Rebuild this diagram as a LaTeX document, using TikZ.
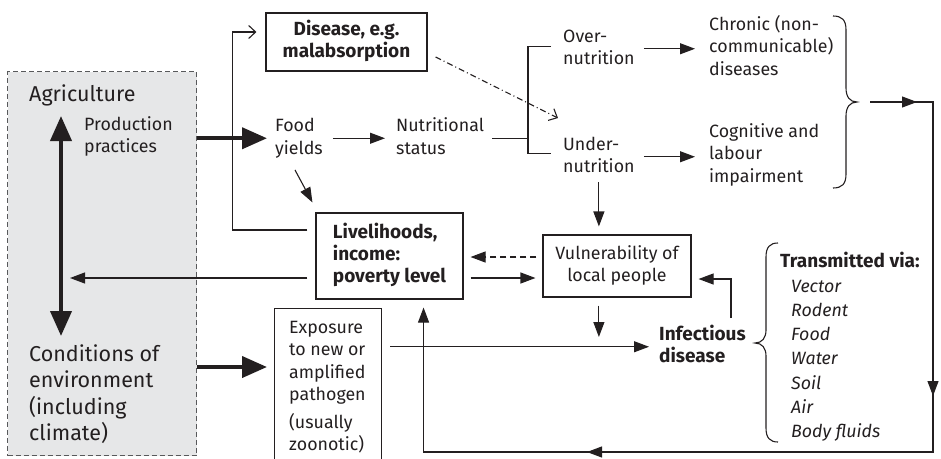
\documentclass[tikz,border=0pt]{standalone}
\usepackage{fontspec}
\setmainfont{Fira Sans}
\usetikzlibrary{arrows.meta}

\definecolor{ink}{HTML}{231F20}
\definecolor{landfill}{HTML}{E6E7E8}
\definecolor{landedge}{HTML}{58595B}

% text sizes
\newcommand\nfont{\fontsize{17.8}{22.5}\selectfont}
\newcommand\hfont{\fontsize{19}{22.5}\selectfont\bfseries}
\newcommand\bfont{\fontsize{21.5}{26.5}\selectfont}

% multi-line blocks whose baseline is the baseline of the first line
\newcommand\lstack[2][22.5pt]{\vtop{\baselineskip=#1\relax\lineskiplimit=-30pt\let\\\cr\halign{\strut##\hfil\cr#2\crcr}}}
\newcommand\cstack[2][22.5pt]{\vtop{\baselineskip=#1\relax\lineskiplimit=-30pt\let\\\cr\halign{\hfil\strut##\hfil\cr#2\crcr}}}

\tikzset{
  txt/.style={inner sep=0pt, anchor=base west, font=\nfont, text=ink},
  box/.style={draw=ink, line width=1.1pt, inner sep=0pt, font=\hfont, text=ink},
  link/.style={draw=ink, line width=1.1pt},
  arr/.style={link, -{Triangle[length=15pt,width=11pt]}},
  thickarr/.style={draw=ink, line width=4pt, -{Triangle[length=25pt,width=21pt]}},
  openarr/.style={link, -{Straight Barb[length=7pt,width=13pt]}},
  brace/.style={draw=ink, line width=1.1pt},
}

\begin{document}
\begin{tikzpicture}[x=1pt,y=-1pt]
\useasboundingbox (0,0) rectangle (941,458);

% agriculture / environment panel
\node[draw=landedge, fill=landfill, line width=1.1pt, dash pattern=on 5pt off 3pt,
      minimum width=189pt, minimum height=384pt, anchor=north west, inner sep=0pt] (land) at (7,71) {};
\node[txt, font=\bfont] (agri) at (29,101) {\lstack[26.5pt]{Agriculture}};
\node[txt] (prod) at (84,130) {\lstack{Production\\practices}};
\node[txt, font=\bfont] (cond) at (29,361) {\lstack[26.5pt]{Conditions of\\environment\\(including\\climate)}};
\coordinate (agrihead) at (61,116);
\coordinate (condhead) at (61,336);
\coordinate (retn) at (70,278);

% nutrition chain
\node[txt] (food) at (275,131.5) {\lstack{Food\\yields}};
\node[txt] (nutr) at (396,131.5) {\lstack{Nutritional\\status}};
\node[txt] (over) at (563,42) {\lstack{Over-\\nutrition}};
\node[txt] (under) at (563,150) {\lstack{Under-\\nutrition}};
\node[txt] (chronic) at (709,30) {\lstack{Chronic (non-\\communicable)\\diseases}};
\node[txt] (cogn) at (709,137) {\lstack{Cognitive and\\labour\\impairment}};
\node[box, minimum width=161pt, minimum height=58pt] (disease) at (346.5,42) {\cstack{Disease, e.g.\\malabsorption}};

% livelihoods and vulnerability
\node[box, minimum width=147pt, minimum height=86pt] (liveli) at (389.5,256) {\lstack[22pt]{Livelihoods,\\income:\\poverty level}};
\node[box, font=\nfont, minimum width=148pt, minimum height=62pt] (vuln) at (617,266) {\cstack{Vulnerability of\\local people}};

% exposure and infectious disease
\node[box, font=\nfont, minimum width=107pt, minimum height=170pt, anchor=north west] (expo) at (274,308) {};
\node[txt] (expotxt) at (289,333) {\lstack{Exposure\\to new or\\amplified\\pathogen\\\noalign{\vskip5pt}(usually\\zoonotic)}};
\node[txt, font=\hfont] (infect) at (659,340) {\lstack{Infectious\\disease}};
\node[txt, font=\hfont] (trans) at (780,267) {Transmitted via:};
\node[txt, font=\nfont\itshape] (routes) at (791,292) {\lstack[24.3pt]{Vector\\Rodent\\Food\\Water\\Soil\\Air\\Body fluids}};

% loop corners
\coordinate (btip) at (857,102);
\coordinate (ecorner) at (933,102);
\coordinate (scorner) at (933,452);

% thick arrows out of the panel
\draw[thickarr, shorten >=8pt] (land.east |- food.west) -- (food.west);
\draw[thickarr, shorten >=7pt] (land.east |- 0,367) -- (expo.west |- 0,367);
\draw[draw=ink, line width=4pt, {Triangle[length=25pt,width=21pt]}-{Triangle[length=25pt,width=21pt]}] (agrihead) -- (condhead);

% livelihoods feedbacks
\draw[arr, shorten <=8pt] (liveli.west |- retn) -- (retn);
\draw[openarr] ([xshift=-8pt,yshift=26pt]liveli.west) -- ++(-75,0) |- ([xshift=-9pt,yshift=10pt]disease.west);
\draw[arr] ([xshift=-4pt,yshift=-9pt]food.south) -- ([xshift=-3pt,yshift=10pt]liveli.north west);

% nutrition
\draw[arr, shorten <=10pt, shorten >=11pt] (food.east |- nutr.west) -- (nutr.west);
\coordinate (fork) at (528,0 |- nutr.west);
\draw[link, shorten <=8pt] (nutr.east) -- (fork);
\draw[link] ([xshift=-12pt,yshift=2pt]over.west) -| (fork) |- ([xshift=-12pt,yshift=3pt]under.west);
\draw[openarr, dash pattern=on 6pt off 3pt on 1pt off 3pt] ([xshift=8pt,yshift=-15pt]disease.east) -- ([xshift=-5pt,yshift=16pt]under.north west);
\draw[arr, shorten >=14pt] ([xshift=9pt]over.east) -- (over.east -| chronic.west);
\draw[arr, shorten >=14pt] ([xshift=9pt]under.east) -- (under.east -| cogn.west);
\draw[arr, shorten <=3pt, shorten >=8pt] (under.south) -- (under.south |- vuln.north);

% vulnerability
\coordinate (vw1) at ([yshift=9pt]vuln.west);
\coordinate (vw2) at ([yshift=-12pt]vuln.west);
\draw[arr, dash pattern=on 6pt off 4pt, shorten <=6pt, shorten >=7pt] (vw1) -- (vw1 -| liveli.east);
\draw[arr, shorten <=7pt, shorten >=7pt] (vw2 -| liveli.east) -- (vw2);
\draw[arr, shorten <=8pt] (vuln.south -| under.south) -- (under.south |- 0,337);
\draw[arr, shorten >=7pt] (731,318) |- ([yshift=-13pt]vuln.east);
\draw[arr, shorten <=8pt, shorten >=10pt] (expo.east |- infect.west) -- (infect.west);

% braces
\draw[brace] (833,16) .. controls (842,16) and (846,20) .. (846,30) -- (846,88)
  .. controls (846,97) and (850,102) .. (btip)
  .. controls (850,102) and (846,107) .. (846,116) -- (846,174)
  .. controls (846,184) and (842,188) .. (833,188);
\draw[brace] (778,243) .. controls (770,243) and (766,247) .. (766,257) -- (766,330)
  .. controls (766,338) and (762,343) .. (755,343)
  .. controls (762,343) and (766,348) .. (766,356) -- (766,428)
  .. controls (766,438) and (770,442) .. (778,442);

% outcomes loop back to livelihoods
\draw[arr, shorten >=8pt] ([xshift=13pt]btip) -- (ecorner) -- (scorner) -| ([xshift=-40pt]liveli.south east);
\draw[arr] ([xshift=13pt]btip) -- ([xshift=-16pt]ecorner);
\draw[arr] (ecorner) -- (ecorner |- 0,396);
\draw[arr] (scorner) -- (scorner -| 587,0);
\end{tikzpicture}
\end{document}
